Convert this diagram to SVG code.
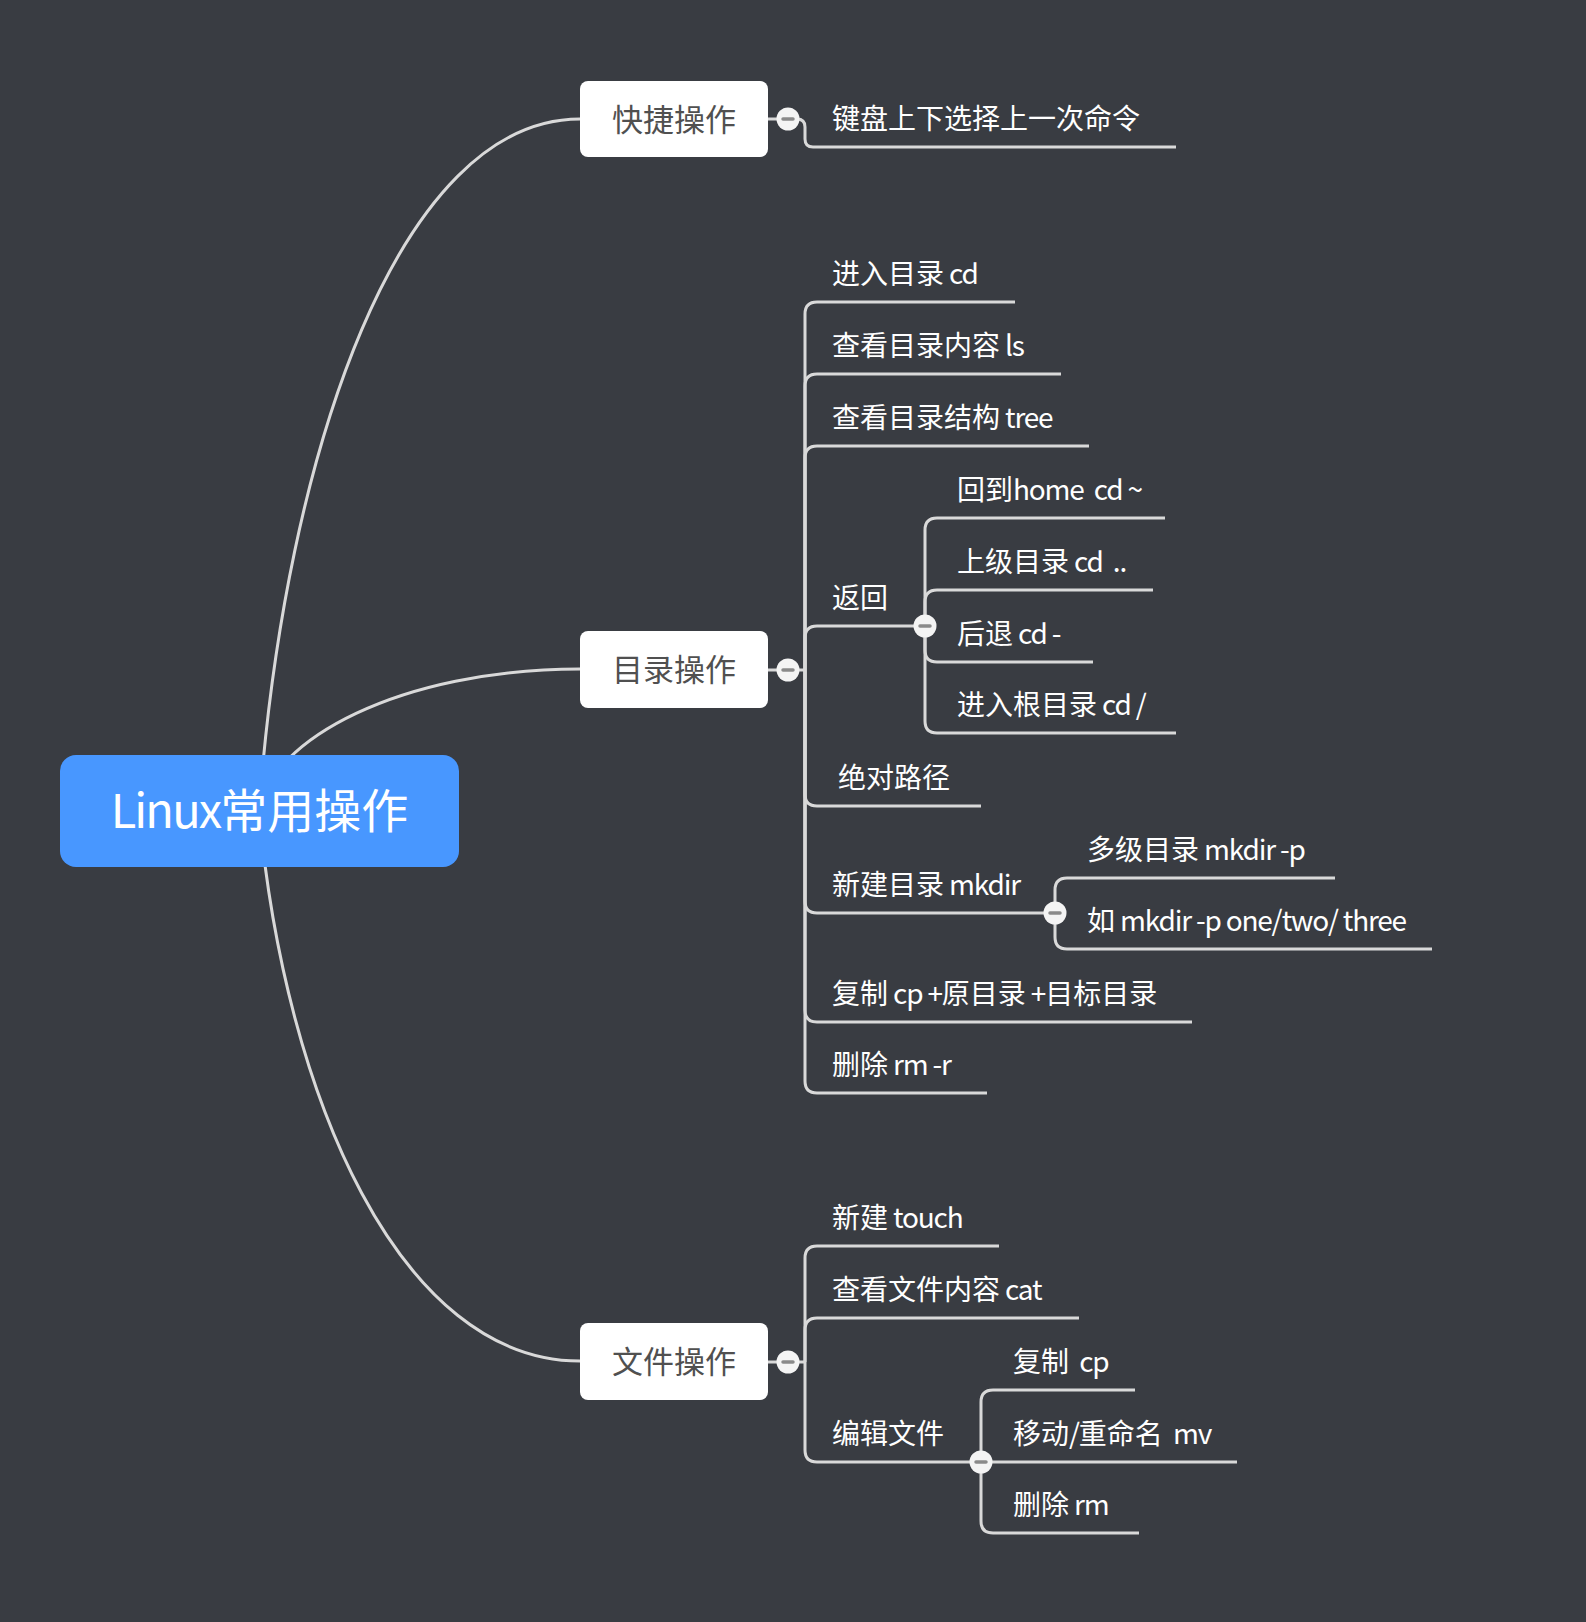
<svg xmlns="http://www.w3.org/2000/svg" width="1586" height="1622" viewBox="0 0 1586 1622" xml:space="preserve">
<style>
.ln{fill:none;stroke:#d9d9d9;stroke-width:3}
.t{font-family:"Noto Sans CJK SC","Noto Sans",sans-serif;font-size:28px;fill:#ffffff;white-space:pre}
.l{letter-spacing:-1.2px}
.nb{fill:#ffffff}
.nt{font-family:"Noto Sans CJK SC","Noto Sans",sans-serif;font-size:31px;fill:#505050;text-anchor:middle}
.rt{font-family:"Noto Sans CJK SC","Noto Sans",sans-serif;font-size:47px;fill:#ffffff;text-anchor:middle}
.tg circle{fill:#f4f4f4}
.tg line{stroke:#8a8a8a;stroke-width:3.5;stroke-linecap:round}
</style>
<defs>
<g id="tog" class="tg"><circle cx="0" cy="0" r="11.5"/><line x1="-5" y1="0" x2="5" y2="0"/></g>
</defs>
<rect width="1586" height="1622" fill="#393c42"/>
<g id="connectors">
<path class="ln" d="M259 811 C285 450 400 119 580 119"/>
<path class="ln" d="M259 811 C270 740 400 669 580 669"/>
<path class="ln" d="M259 811 C285 1097 400 1361 580 1361"/>
<path class="ln" d="M768 119 H790 M788 119 H797 Q805 119 805 127 V139 Q805 147 813 147 H1176"/>
<path class="ln" d="M768 670 H805"/>
<path class="ln" d="M805 670 V314 Q805 302 817 302 H1015"/>
<path class="ln" d="M805 670 V386 Q805 374 817 374 H1061"/>
<path class="ln" d="M805 670 V458 Q805 446 817 446 H1089"/>
<path class="ln" d="M805 670 V638 Q805 626 817 626 H925"/>
<path class="ln" d="M805 670 V794 Q805 806 817 806 H981"/>
<path class="ln" d="M805 670 V901 Q805 913 817 913 H1055"/>
<path class="ln" d="M805 670 V1010 Q805 1022 817 1022 H1192"/>
<path class="ln" d="M805 670 V1081 Q805 1093 817 1093 H987"/>
<path class="ln" d="M925 626 V530 Q925 518 937 518 H1165"/>
<path class="ln" d="M925 626 V602 Q925 590 937 590 H1153"/>
<path class="ln" d="M925 626 V650 Q925 662 937 662 H1093"/>
<path class="ln" d="M925 626 V721 Q925 733 937 733 H1176"/>
<path class="ln" d="M1055 913 V890 Q1055 878 1067 878 H1335"/>
<path class="ln" d="M1055 913 V937 Q1055 949 1067 949 H1432"/>
<path class="ln" d="M768 1362 H805"/>
<path class="ln" d="M805 1362 V1258 Q805 1246 817 1246 H999"/>
<path class="ln" d="M805 1362 V1330 Q805 1318 817 1318 H1079"/>
<path class="ln" d="M805 1362 V1450 Q805 1462 817 1462 H981"/>
<path class="ln" d="M981 1462 V1402 Q981 1390 993 1390 H1135"/>
<path class="ln" d="M981 1462 H1237"/>
<path class="ln" d="M981 1462 V1521 Q981 1533 993 1533 H1139"/>
</g>
<g id="root"><rect x="60" y="755" width="399" height="112" rx="16" fill="#4897ff"/><text class="rt" x="259.5" y="828"><tspan letter-spacing="-1.9">Linux</tspan>常用操作</text></g>
<g id="n-kuaijie"><rect class="nb" x="580" y="81" width="188" height="76" rx="8"/><text class="nt" x="674" y="130.5">快捷操作</text><use href="#tog" x="788" y="119"/></g>
<g id="n-mulu"><rect class="nb" x="580" y="631" width="188" height="77" rx="8"/><text class="nt" x="674" y="681">目录操作</text><use href="#tog" x="788" y="670"/></g>
<g id="n-wenjian"><rect class="nb" x="580" y="1323" width="188" height="77" rx="8"/><text class="nt" x="674" y="1373">文件操作</text><use href="#tog" x="788" y="1362"/></g>
<g id="k1"><text class="t" x="832" y="129">键盘上下选择上一次命令</text></g>
<g id="m1"><text class="t" x="832" y="284">进入目录<tspan class="l"> cd</tspan></text></g>
<g id="m2"><text class="t" x="832" y="356">查看目录内容<tspan class="l"> ls</tspan></text></g>
<g id="m3"><text class="t" x="832" y="428">查看目录结构<tspan class="l"> tree</tspan></text></g>
<g id="m4"><text class="t" x="832" y="608">返回</text><use href="#tog" x="925" y="626"/></g>
<g id="m4a"><text class="t" x="957" y="500">回到<tspan class="l">home  cd ~</tspan></text></g>
<g id="m4b"><text class="t" x="957" y="572">上级目录<tspan class="l"> cd  ..</tspan></text></g>
<g id="m4c"><text class="t" x="957" y="644">后退<tspan class="l"> cd -</tspan></text></g>
<g id="m4d"><text class="t" x="957" y="715">进入根目录<tspan class="l"> cd /</tspan></text></g>
<g id="m5"><text class="t" x="838" y="788">绝对路径</text></g>
<g id="m6"><text class="t" x="832" y="895">新建目录<tspan class="l"> mkdir</tspan></text><use href="#tog" x="1055" y="913"/></g>
<g id="m6a"><text class="t" x="1087" y="860">多级目录<tspan class="l"> mkdir -p</tspan></text></g>
<g id="m6b"><text class="t" x="1087" y="931">如<tspan class="l"> mkdir -p one/two/ three</tspan></text></g>
<g id="m7"><text class="t" x="832" y="1004">复制<tspan class="l"> cp +</tspan>原目录<tspan class="l"> +</tspan>目标目录</text></g>
<g id="m8"><text class="t" x="832" y="1075">删除<tspan class="l"> rm -r</tspan></text></g>
<g id="f1"><text class="t" x="832" y="1228">新建<tspan class="l"> touch</tspan></text></g>
<g id="f2"><text class="t" x="832" y="1300">查看文件内容<tspan class="l"> cat</tspan></text></g>
<g id="f3"><text class="t" x="832" y="1444">编辑文件</text><use href="#tog" x="981" y="1462"/></g>
<g id="f3a"><text class="t" x="1013" y="1372">复制<tspan class="l">  cp</tspan></text></g>
<g id="f3b"><text class="t" x="1013" y="1444">移动<tspan class="l">/</tspan>重命名<tspan class="l">  mv</tspan></text></g>
<g id="f3c"><text class="t" x="1013" y="1515">删除<tspan class="l"> rm</tspan></text></g>
</svg>
